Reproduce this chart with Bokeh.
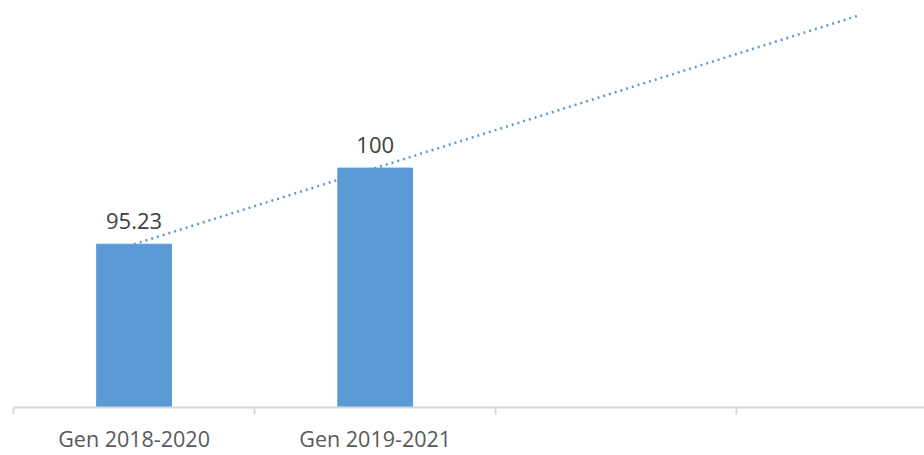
from bokeh.plotting import figure
from bokeh.models import Range1d, FixedTicker, ColumnDataSource
from bokeh.core.properties import value
from bokeh.embed import file_html
from bokeh.resources import INLINE

# ---- data ----
categories = ["Gen 2018-2020", "Gen 2019-2021"]
values = [95.23, 100]
value_labels = ["95.23", "100"]
n_slots = 4                      # category slots on the axis (two unused)
trend_index = [0, 3]             # trendline from first category to 4th slot
trend_values = [95.23, 109.54]
y_min, y_max = 85, 110

BLUE = "#5b9bd5"

x_pos = [i + 0.5 for i in range(len(categories))]
trend_x = [i + 0.5 for i in trend_index]

p = figure(width=924, height=455, output_backend="svg", toolbar_location=None,
           x_range=Range1d(0, 3.778), y_range=Range1d(y_min, y_max),
           min_border_left=13, min_border_right=0, min_border_top=8, min_border_bottom=46)
p.outline_line_color = None
p.grid.visible = False
p.yaxis.visible = False

src = ColumnDataSource(dict(x=x_pos, top=values, lab=value_labels))
p.vbar(x="x", top="top", bottom=y_min, width=0.31, color=BLUE, source=src)
p.line(trend_x, trend_values, line_color=BLUE, line_width=2.5, line_dash="2 4")
p.text(x="x", y="top", text="lab", source=src, text_align="center", text_baseline="bottom",
       y_offset=-15, text_font=value("Open Sans"), text_font_size="22px", text_color="#404040")

ax = p.xaxis[0]
ax.ticker = FixedTicker(ticks=x_pos, minor_ticks=list(range(n_slots + 1)))
ax.major_label_overrides = {x: c for x, c in zip(x_pos, categories)}
ax.axis_line_color = "#d9d9d9"
ax.axis_line_width = 2
ax.major_tick_line_color = None
ax.major_tick_out = 0
ax.major_tick_in = 0
ax.minor_tick_line_color = "#d9d9d9"
ax.minor_tick_line_width = 2
ax.minor_tick_out = 7
ax.minor_tick_in = 0
ax.major_label_standoff = 9
ax.major_label_text_font = "Open Sans"
ax.major_label_text_font_size = "21.5px"
ax.major_label_text_line_height = 1.0
ax.major_label_text_color = "#595959"

open("out.html", "w").write(file_html(p, INLINE))
